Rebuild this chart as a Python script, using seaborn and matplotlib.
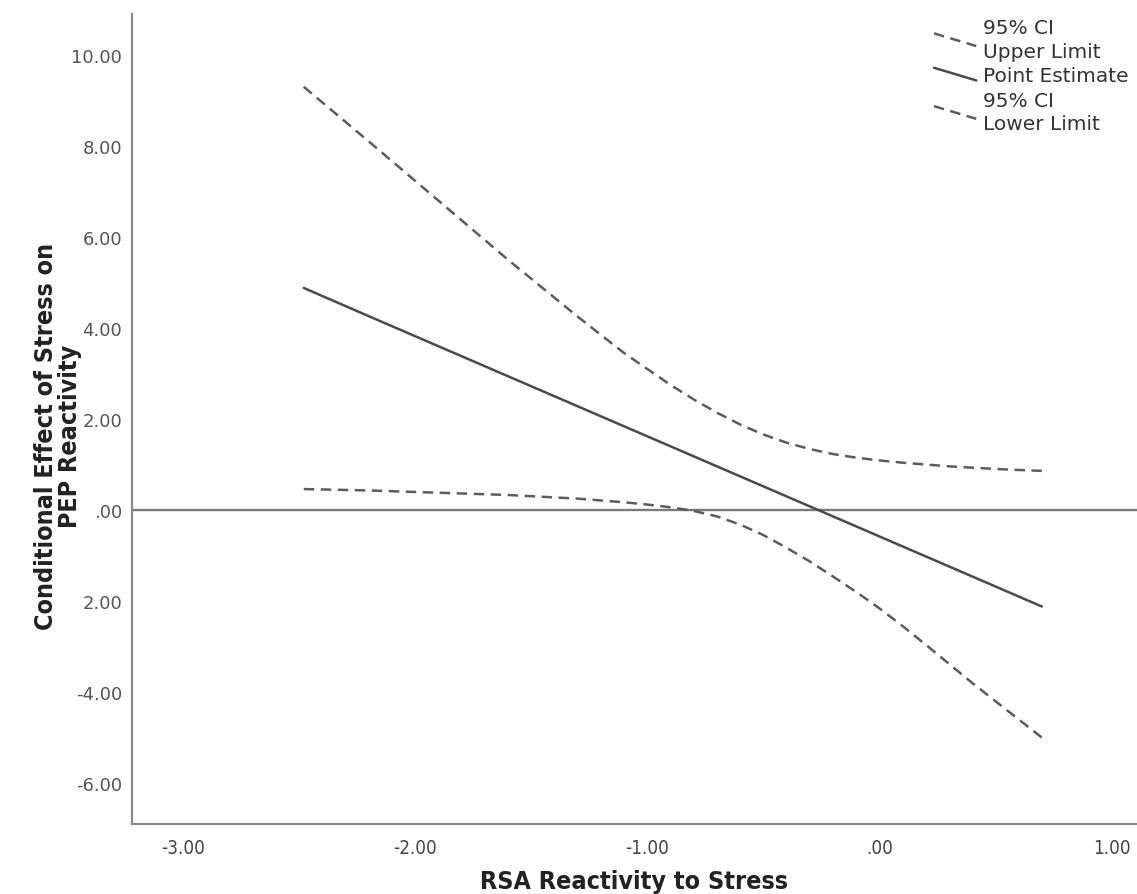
import numpy as np
import pandas as pd
import matplotlib
matplotlib.use('Agg')
import matplotlib.pyplot as plt
from matplotlib.legend_handler import HandlerLine2D
from matplotlib.lines import Line2D
import seaborn as sns

# =============================
# Data
# =============================
rsa_x = [-2.48, -2.2, -1.9, -1.6, -1.3, -1.1, -1.0, -0.9, -0.8, -0.7, -0.6, -0.5,
         -0.4, -0.3, -0.2, -0.1, 0.0, 0.1, 0.2, 0.3, 0.4, 0.55, 0.7]
ci_upper = [9.30, 8.10, 6.80, 5.50, 4.25, 3.45, 3.10, 2.75, 2.43, 2.14, 1.88, 1.66,
            1.48, 1.34, 1.23, 1.15, 1.09, 1.04, 1.00, 0.96, 0.93, 0.89, 0.86]
point_est = [4.88, 4.26, 3.60, 2.94, 2.28, 1.84, 1.62, 1.40, 1.18, 0.96, 0.74, 0.52,
             0.30, 0.08, -0.14, -0.36, -0.58, -0.80, -1.02, -1.24, -1.46, -1.79, -2.12]
ci_lower = [0.46, 0.43, 0.38, 0.33, 0.25, 0.17, 0.12, 0.06, -0.02, -0.14, -0.32, -0.55,
            -0.83, -1.13, -1.46, -1.80, -2.16, -2.55, -2.96, -3.38, -3.80, -4.40, -5.00]

x_ticks = [-3, -2, -1, 0, 1]
x_tick_labels = ['-3.00', '-2.00', '-1.00', '.00', '1.00']
y_ticks = [-6, -4, -2, 0, 2, 4, 6, 8, 10]
y_tick_labels = ['-6.00', '-4.00', '2.00', '.00', '2.00', '4.00', '6.00', '8.00', '10.00']

series_names = ['95% CI\nUpper Limit', 'Point Estimate', '95% CI\nLower Limit']

df = pd.DataFrame({
    'x': rsa_x * 3,
    'y': ci_upper + point_est + ci_lower,
    'series': [series_names[0]] * len(rsa_x) + [series_names[1]] * len(rsa_x)
              + [series_names[2]] * len(rsa_x),
})


# diagonal legend handles, SPSS style
class DiagonalHandler(HandlerLine2D):
    def create_artists(self, legend, orig_handle, xdescent, ydescent,
                       width, height, fontsize, trans):
        line = Line2D([-xdescent, -xdescent + width],
                      [height * 0.95, 0.05 * height])
        self.update_prop(line, orig_handle, legend)
        line.set_transform(trans)
        return [line]


# =============================
# Plot
# =============================
sns.set_style('white')
plt.rcParams['font.family'] = ['DejaVu Sans']

fig = plt.figure(figsize=(11.37, 8.95), dpi=100)
ax = fig.add_axes([132 / 1137, 70 / 895, 1 - 132 / 1137, 810 / 895])

ax.axhline(0, color='#7a7a7a', lw=1.7, zorder=1)

sns.lineplot(data=df, x='x', y='y', hue='series', style='series',
             palette=['#5c5c5c', '#4a4a4a', '#5c5c5c'],
             dashes={series_names[0]: (4.2, 2.6), series_names[1]: '',
                     series_names[2]: (4.2, 2.6)},
             hue_order=series_names, style_order=series_names,
             linewidth=1.8, ax=ax, zorder=3)

ax.set_xlim(-3.22, 1.11)
ax.set_ylim(-6.90, 10.90)
ax.set_xticks(x_ticks)
ax.set_xticklabels(x_tick_labels, fontstretch='condensed',
                   fontsize=13.5, color='#444444')
ax.set_yticks(y_ticks)
ax.set_yticklabels(y_tick_labels, fontsize=13, color='#555555')
ax.tick_params(axis='x', length=0, pad=10)
ax.tick_params(axis='y', length=0, pad=7)

for side in ['top', 'right']:
    ax.spines[side].set_visible(False)
for side in ['left', 'bottom']:
    ax.spines[side].set_color('#8a8a8a')
    ax.spines[side].set_linewidth(1.6)

lab_font = dict(fontstretch='condensed', fontsize=18, fontweight='bold',
                color='#222222')
ax.set_xlabel('RSA Reactivity to Stress', **lab_font)
ax.set_ylabel('Conditional Effect of Stress on\nPEP Reactivity',
              linespacing=1.0, **lab_font)
ax.xaxis.set_label_coords(0.5, -0.056)
ax.yaxis.set_label_coords(-0.05, 0.48)

handles, labels = ax.get_legend_handles_labels()
leg = ax.legend(handles, labels, loc='upper right', bbox_to_anchor=(1.0, 1.005),
                frameon=False, fontsize=14.5, handlelength=2.1, handletextpad=0.35,
                labelspacing=0.28, borderaxespad=0.0,
                handler_map={h: DiagonalHandler() for h in handles})
for t in leg.get_texts():
    t.set_color('#333333')
    t.set_linespacing(1.3)

fig.savefig('out.png', dpi=100)
